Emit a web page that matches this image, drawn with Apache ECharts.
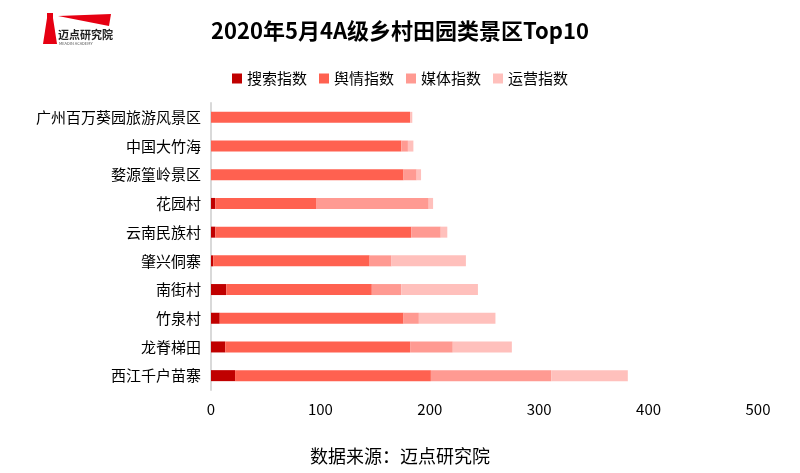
<!DOCTYPE html>
<html><head><meta charset="utf-8">
<script src="https://cdn.jsdelivr.net/npm/echarts@6/dist/echarts.min.js"></script>
<style>html,body{margin:0;padding:0;background:#fff}#c{width:800px;height:473px}</style>
</head><body><div id="c"></div>
<script>
const categories = ['广州百万葵园旅游风景区','中国大竹海','婺源篁岭景区','花园村','云南民族村','肇兴侗寨','南街村','竹泉村','龙脊梯田','西江千户苗寨'];
const searchIdx = [0, 0, 0, 4, 4, 2, 14, 8, 13, 22];
const opinionIdx = [182, 174, 176, 92, 179, 143, 133, 168, 169, 179];
const mediaIdx = [0, 6, 12, 103, 27, 20, 27, 14, 39, 110];
const opsIdx = [2, 5, 4, 4, 6, 68, 70, 70, 54, 70];
const xTicks = [0, 100, 200, 300, 400, 500];

const font = '"Noto Sans CJK SC", sans-serif';
const chart = echarts.init(document.getElementById('c'));
const names = ['搜索指数','舆情指数','媒体指数','运营指数'];
const colors = ['#C00000','#FF6150','#FF9A92','#FFC0BC'];
const data = [searchIdx, opinionIdx, mediaIdx, opsIdx];
chart.setOption({
  animation:false,
  title:{text:'2020年5月4A级乡村田园类景区Top10',left:'center',top:15,textStyle:{fontFamily:font,fontSize:22,fontWeight:'bold',color:'#000'}},
  legend:{data:names,top:66,left:'center',itemWidth:10,itemHeight:10,itemGap:12,icon:'rect',textStyle:{fontFamily:font,fontSize:15,color:'#000'}},
  grid:{left:211,right:42,top:103,bottom:83},
  xAxis:{type:'value',min:xTicks[0],max:xTicks[xTicks.length-1],interval:100,
    axisLine:{show:false},axisTick:{show:false},splitLine:{show:false},
    axisLabel:{fontFamily:font,fontSize:15,color:'#000',margin:12}},
  yAxis:{type:'category',data:categories,inverse:true,
    axisLine:{show:true,lineStyle:{color:'#d9d9d9',width:2}},axisTick:{show:false},
    axisLabel:{fontFamily:font,fontSize:15,color:'#000',margin:10}},
  series:names.map((n,i)=>({name:n,type:'bar',stack:'s',barWidth:11,data:data[i],itemStyle:{color:colors[i]}})),
  graphic:[
    {type:'polygon',shape:{points:[[43,44],[47,18],[53,18],[57,44]]},style:{fill:'#E60012'}},
    {type:'rect',shape:{x:47,y:13,width:6,height:5},style:{fill:'#E60012'}},
    {type:'polygon',shape:{points:[[58,16],[111,14],[109,26]]},style:{fill:'#E60012'}},
    {type:'text',left:58,top:29,style:{text:'迈点研究院',fontFamily:font,fontSize:11,fontWeight:'bold',fill:'#222'}},
    {type:'text',left:59,top:41,style:{text:'MEADIN ACADEMY',fontFamily:font,fontSize:4,fill:'#555'}},
    {type:'text',left:'center',top:447,style:{text:'数据来源：迈点研究院',fontFamily:font,fontSize:18,fill:'#000'}}
  ]
});
</script></body></html>
